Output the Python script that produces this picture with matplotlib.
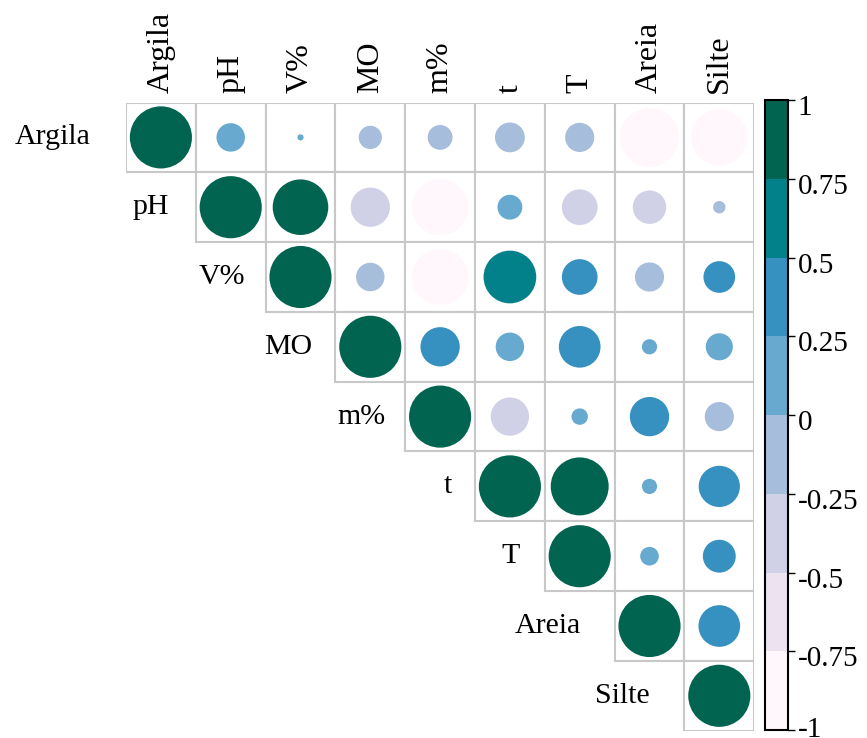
import numpy as np
import matplotlib
matplotlib.use('Agg')
import matplotlib.pyplot as plt
import matplotlib.transforms as mtransforms
from matplotlib.patches import Circle, Rectangle
from matplotlib.colors import ListedColormap, BoundaryNorm
from matplotlib.colorbar import ColorbarBase

plt.rcParams['font.family'] = ['Liberation Serif', 'DejaVu Serif']
plt.rcParams['axes.unicode_minus'] = False

# variable names
names = ['Argila', 'pH', 'V%', 'MO', 'm%', 't', 'T', 'Areia', 'Silte']

# upper triangle correlations, each row starts on the diagonal
r_argila = [1, 0.21, 0.01, -0.14, -0.16, -0.23, -0.22, -0.90, -0.82]
r_ph = [1, 0.80, -0.40, -0.82, 0.16, -0.33, -0.29, -0.04]
r_v = [1, -0.21, -0.82, 0.72, 0.33, -0.22, 0.26]
r_mo = [1, 0.40, 0.21, 0.45, 0.06, 0.19]
r_m = [1, -0.38, 0.07, 0.40, -0.22]
r_t = [1, 0.87, 0.06, 0.44]
r_T = [1, 0.09, 0.28]
r_areia = [1, 0.45]
r_silte = [1]
rows = [r_argila, r_ph, r_v, r_mo, r_m, r_t, r_T, r_areia, r_silte]

# colour bins (PuBuGn, 8 classes)
bounds = [-1, -0.75, -0.5, -0.25, 0, 0.25, 0.5, 0.75, 1]
tick_labels = ['-1', '-0.75', '-0.5', '-0.25', '0', '0.25', '0.5', '0.75', '1']
colors = ['#fff7fb', '#ece2f0', '#d0d1e6', '#a6bddb',
          '#67a9cf', '#3690c0', '#02818a', '#016450']
cmap = ListedColormap(colors)
norm = BoundaryNorm(bounds, cmap.N)

W, H = 867, 738
fig = plt.figure(figsize=(W / 100, H / 100), dpi=100)

# grid axes in pixel terms
gl, gt, cell = 126.0, 102.5, 69.8
n = len(names)
ax = fig.add_axes([gl / W, 1 - (gt + n * cell) / H, n * cell / W, n * cell / H])
ax.set_xlim(0, n)
ax.set_ylim(n, 0)
ax.axis('off')

# gap (px) between each row label and its diagonal cell
label_gap = [35, 27, 20, 23, 20, 23, 25, 34, 35]

for i, row in enumerate(rows):
    for k, r in enumerate(row):
        j = i + k
        ax.add_patch(Rectangle((j, i), 1, 1, facecolor='white',
                               edgecolor='#c8c8c8', lw=1.5, zorder=1))
        rad = 0.445 * np.sqrt(abs(r))
        ax.add_patch(Circle((j + 0.5, i + 0.5), rad,
                            facecolor=cmap(norm(r)), edgecolor='none', zorder=2))
    # row label left of the diagonal cell
    ax.text(i - label_gap[i] / cell, i + 0.5, names[i], ha='right', va='center',
            fontsize=21.5)

# column labels on top
for j, nm in enumerate(names):
    ax.text(j + 0.5, -0.13, nm, rotation=90, ha='center', va='bottom', fontsize=23)

# colorbar
cax = fig.add_axes([765 / W, 1 - 730 / H, 23 / W, 630 / H])
cb = ColorbarBase(cax, cmap=cmap, norm=norm, boundaries=bounds, ticks=bounds,
                  orientation='vertical')
cb.set_ticklabels(tick_labels)
cb.outline.set_linewidth(1.5)
cax.tick_params(labelsize=21, length=5, width=1, pad=2)
labs = cax.get_yticklabels()
for idx, lab in enumerate(labs):
    dy = 3 if idx == 0 else -5   # bottom label sits a bit higher
    shift = mtransforms.ScaledTranslation(0, dy / 100, fig.dpi_scale_trans)
    lab.set_transform(lab.get_transform() + shift)

fig.savefig('out.png', dpi=100)
